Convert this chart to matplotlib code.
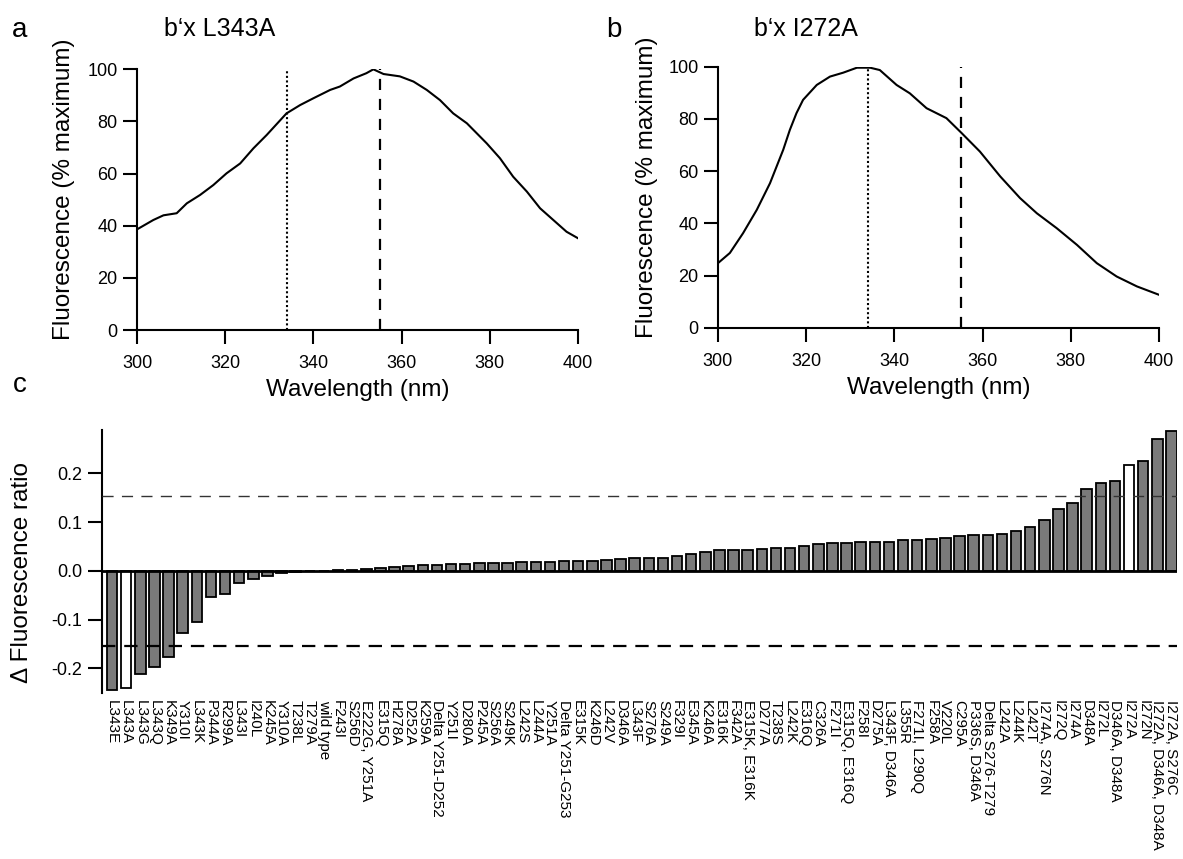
import numpy as np
import matplotlib
matplotlib.use("Agg")
import matplotlib.pyplot as plt

plt.rcParams['font.family'] = ['Liberation Sans', 'DejaVu Sans']

# panel a: b'x L343A emission spectrum
wl_a = [300, 303.7, 306, 309, 311.3, 314.3, 317.3, 320.3, 323.4, 326.4, 329.4, 333.9,
        337, 340, 343.8, 346, 349.1, 352, 353.6, 355.9, 359.6, 362.7, 365.7, 368.7,
        371.7, 374.8, 379.3, 382.3, 385.3, 388.4, 391.4, 394.4, 397.4, 400]
fl_a = [38.6, 42.2, 44.0, 44.8, 48.6, 51.8, 55.6, 60.1, 63.9, 69.7, 74.8, 83.1,
        86.3, 88.9, 92.1, 93.4, 96.5, 98.5, 100.0, 98.2, 97.3, 95.3, 92.1, 88.2,
        83.1, 79.3, 71.6, 65.9, 58.8, 53.1, 46.7, 42.2, 37.7, 35.2]

# panel b: b'x I272A emission spectrum
wl_b = [300, 302.7, 305.7, 308.8, 311.8, 314.8, 316.3, 317.8, 319.3, 322.4, 325.4, 328.4,
        331.5, 334.5, 336.7, 340.5, 343.5, 347.3, 351.8, 355.3, 359.4, 364, 368.5,
        372.3, 376.8, 381.4, 385.9, 390.4, 395, 400]
fl_b = [24.8, 28.7, 36.3, 45.2, 55.4, 68.2, 75.8, 82.2, 87.3, 93.0, 96.2, 97.7,
        99.6, 99.6, 98.7, 93.0, 89.8, 84.1, 80.3, 74.5, 67.5, 58.0, 49.7,
        43.9, 38.2, 31.8, 24.8, 19.7, 15.9, 12.7]

dotted_wl = 334
dashed_wl = 355

# panel c
mutants = ["L343E", "L343A", "L343G", "L343Q", "K349A", "Y310I", "L343K", "P344A",
           "R299A", "L343I", "I240L", "K245A", "Y310A", "T238L", "T279A", "wild type",
           "F243I", "S256D", "E222G, Y251A", "E315Q", "H278A", "D252A", "K259A",
           "Delta Y251-D252", "Y251I", "D280A", "P245A", "S256A", "S249K", "L242S",
           "L244A", "Y251A", "Delta Y251-G253", "E315K", "K246D", "L242V", "D346A",
           "L343F", "S276A", "S249A", "F329I", "E345A", "K246A", "E316K", "F342A",
           "E315K, E316K", "D277A", "T238S", "L242K", "E316Q", "C326A", "F271I",
           "E315Q, E316Q", "F258I", "D275A", "L343F, D346A", "L355R", "F271I, L290Q",
           "F258A", "V220L", "C295A", "P336S, D346A", "Delta S276-T279", "L242A",
           "L244K", "L242T", "I274A, S276N", "I272Q", "I274A", "D348A", "I272L",
           "D346A, D348A", "I272A", "I272N", "I272A, D346A, D348A", "I272A, S276C"]
delta_ratio = [-0.244, -0.240, -0.212, -0.198, -0.176, -0.128, -0.105, -0.054,
               -0.047, -0.024, -0.017, -0.010, -0.004, -0.002, -0.001, 0.0,
               0.001, 0.002, 0.004, 0.006, 0.009, 0.010, 0.012,
               0.012, 0.015, 0.015, 0.016, 0.016, 0.016, 0.018,
               0.018, 0.018, 0.020, 0.020, 0.021, 0.023, 0.024,
               0.026, 0.027, 0.027, 0.031, 0.035, 0.038, 0.042, 0.042,
               0.043, 0.045, 0.046, 0.047, 0.051, 0.055, 0.057,
               0.057, 0.059, 0.059, 0.060, 0.064, 0.064,
               0.066, 0.068, 0.071, 0.074, 0.074, 0.076,
               0.081, 0.091, 0.105, 0.127, 0.139, 0.168, 0.180,
               0.185, 0.218, 0.226, 0.271, 0.288]
highlighted = ["L343A", "I272A"]
threshold = 0.153

fig = plt.figure(figsize=(11.83, 8.59), dpi=100)


def spectrum_axes(rect, wl, fl, title, title_x, letter, letter_x, ylab_x):
    ax = fig.add_axes(rect)
    ax.plot(wl, fl, color='black', lw=1.5)
    ax.plot([dotted_wl, dotted_wl], [0, 100], color='black', lw=1.5, ls=(0, (1, 1.2)))
    ax.plot([dashed_wl, dashed_wl], [0, 100], color='black', lw=1.6, ls=(0, (5, 4)))
    ax.set_xlim(300, 400)
    ax.set_ylim(0, 100)
    ax.set_xticks([300, 320, 340, 360, 380, 400])
    ax.set_yticks([0, 20, 40, 60, 80, 100])
    for s in ['top', 'right']:
        ax.spines[s].set_visible(False)
    for s in ['left', 'bottom']:
        ax.spines[s].set_linewidth(1.5)
    ax.tick_params(length=10, width=1.5, labelsize=13, pad=4)
    ax.tick_params(axis='x', pad=8)
    ax.set_xlabel("Wavelength (nm)", fontsize=17.5, labelpad=5)
    ax.set_ylabel("Fluorescence (% maximum)", fontsize=17.5)
    ax.yaxis.set_label_coords(ylab_x, 0.54)
    fig.text(title_x, 1 - 29 / 859, title, fontsize=18, ha='center', va='center')
    fig.text(letter_x, 1 - 30 / 859, letter, fontsize=20, ha='center', va='center')
    return ax


ax_a = spectrum_axes([0.1158, 0.6158, 0.3728, 0.3035], wl_a, fl_a, "b\u2018x L343A",
                     220 / 1183, "a", 20 / 1183, -0.141)
ax_b = spectrum_axes([0.6069, 0.6182, 0.3728, 0.3042], wl_b, fl_b, "b\u2018x I272A",
                     806 / 1183, "b", 614 / 1183, -0.136)

ax_c = fig.add_axes([0.0860, 0.1929, 0.909, 0.3065])
x = np.arange(len(mutants))
colors = ['white' if m in highlighted else '#7a7a7a' for m in mutants]
ax_c.bar(x, delta_ratio, width=0.75, color=colors, edgecolor='black', linewidth=1.3, zorder=2)
ax_c.axhline(0, color='black', lw=2, zorder=3)
ax_c.axhline(threshold, color='#333333', lw=1, ls=(0, (8, 6)), zorder=4)
ax_c.axhline(-threshold, color='black', lw=1.6, ls=(0, (6, 4)), zorder=4)
ax_c.set_xlim(-0.73, len(mutants) - 0.6)
ax_c.set_ylim(-0.251, 0.289)
ax_c.set_yticks([-0.2, -0.1, 0.0, 0.1, 0.2])
ax_c.set_yticklabels(["-0.2", "-0.1", "0.0", "0.1", "0.2"])
ax_c.set_xticks(x)
ax_c.set_xticklabels(mutants, rotation=-90, fontsize=11)
for s in ['top', 'right', 'bottom']:
    ax_c.spines[s].set_visible(False)
ax_c.spines['left'].set_linewidth(1.5)
ax_c.tick_params(axis='y', length=10, width=1.5, labelsize=13, pad=4)
ax_c.tick_params(axis='x', length=0, pad=5)
ax_c.set_ylabel("\u0394 Fluorescence ratio", fontsize=17.5)
ax_c.yaxis.set_label_coords(-0.064, 0.46)
fig.text(20 / 1183, 1 - 385 / 859, "c", fontsize=20, ha='center', va='center')

fig.savefig("out.png", dpi=100)
